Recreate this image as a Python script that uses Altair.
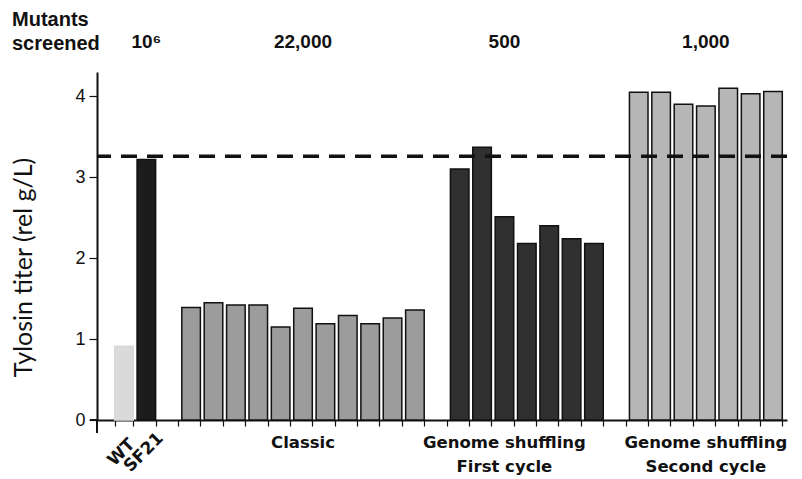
import altair as alt
import pandas as pd

# ---- data ----
wt_value = [0.91]
sf21_value = [3.22]
classic_values = [1.39, 1.45, 1.42, 1.42, 1.15, 1.38, 1.19, 1.29, 1.19, 1.26, 1.36]
first_cycle_values = [3.10, 3.37, 2.51, 2.18, 2.40, 2.24, 2.18]
second_cycle_values = [4.05, 4.05, 3.90, 3.88, 4.10, 4.03, 4.06]
sf21_level = [3.26]
y_ticks = [0, 1, 2, 3, 4]
mutants_screened = ["10\u2076", "22,000", "500", "1,000"]
group_line1 = ["Classic", "Genome shuffling", "Genome shuffling"]
group_line2 = ["", "First cycle", "Second cycle"]
y_title = "Tylosin titer (rel g/L)"

# ---- build table ----
rows = []
rows.append({"slot": "WT", "value": wt_value[0], "group": "WT"})
rows.append({"slot": "SF21", "value": sf21_value[0], "group": "SF21"})
classic_ids = [f"C{i+1}" for i in range(len(classic_values))]
first_ids = [f"F{i+1}" for i in range(len(first_cycle_values))]
second_ids = [f"S{i+1}" for i in range(len(second_cycle_values))]
for s, v in zip(classic_ids, classic_values):
    rows.append({"slot": s, "value": v, "group": "Classic"})
for s, v in zip(first_ids, first_cycle_values):
    rows.append({"slot": s, "value": v, "group": "First"})
for s, v in zip(second_ids, second_cycle_values):
    rows.append({"slot": s, "value": v, "group": "Second"})
df = pd.DataFrame(rows)

order = ["WT", "SF21", "gap1"] + classic_ids + ["gap2"] + first_ids + ["gap3"] + second_ids

groups = ["WT", "SF21", "Classic", "First", "Second"]
fills = ["#dadada", "#1c1c1c", "#9c9c9c", "#303030", "#b6b6b6"]
strokes = ["#dadada", "#111111", "#111111", "#111111", "#111111"]

xscale = alt.Scale(domain=order, paddingInner=0.17, paddingOuter=0.5, align=0.79)
x_enc = alt.X(
    "slot:N",
    scale=xscale,
    sort=order,
    axis=alt.Axis(
        title=None,
        tickBand="extent",
        tickSize=6,
        tickColor="#111",
        tickWidth=1.2,
        domainColor="#111",
        domainWidth=2,
        labelExpr="datum.value == 'WT' || datum.value == 'SF21' ? datum.value : ''",
        labelAngle=315,
        labelAlign="center",
        labelBaseline="middle",
        labelFont="DejaVu Sans",
        labelFontWeight="bold",
        labelFontSize=17,
        labelColor="#111",
        labelPadding=26,
        labelOffset=-3,
        labelOverlap=False,
        labelBound=False,
    ),
)

bars = alt.Chart(df).mark_bar(strokeWidth=1.5).encode(
    x=x_enc,
    y=alt.Y(
        "value:Q",
        scale=alt.Scale(domain=[0, 4.3], nice=False),
        axis=alt.Axis(
            values=y_ticks,
            format="d",
            title=y_title,
            titleFont="Lato",
            titleFontSize=25,
            titleFontWeight="normal",
            titleColor="#111",
            titleAngle=270,
            titleX=-66,
            titleY=195,
            titleAlign="center",
            titleBaseline="alphabetic",
            labelFont="Liberation Sans",
            labelFontSize=18,
            labelColor="#111",
            labelPadding=4,
            tickSize=8,
            tickColor="#111",
            tickWidth=1.2,
            domainColor="#111",
            domainWidth=2,
            grid=False,
        ),
    ),
    color=alt.Color("group:N", scale=alt.Scale(domain=groups, range=fills), legend=None),
    stroke=alt.Stroke("group:N", scale=alt.Scale(domain=groups, range=strokes), legend=None),
)

rule = alt.Chart(pd.DataFrame({"level": sf21_level})).mark_rule(
    strokeDash=[16, 10], strokeWidth=3.5, color="#111"
).encode(y="level:Q")

# small axis extensions past the corner, as in the reference
axis_ext_v = alt.Chart(pd.DataFrame({"k": [0]})).mark_rule(color="#111", strokeWidth=2).encode(
    x=alt.value(0), y=alt.value(348), y2=alt.value(361)
)
axis_ext_h = alt.Chart(pd.DataFrame({"k": [0]})).mark_rule(color="#111", strokeWidth=2).encode(
    x=alt.value(-7), x2=alt.value(0), y=alt.value(348)
)

top_df = pd.DataFrame({"slot": ["SF21", "C6", "F3", "S4"], "label": mutants_screened})
top_text = alt.Chart(top_df).mark_text(
    font="Liberation Sans", fontWeight="bold", fontSize=19, baseline="alphabetic", color="#111"
).encode(x=x_enc, y=alt.value(-24), text="label:N")

mut_text = alt.Chart(pd.DataFrame({"t": ["Mutants\nscreened"]})).mark_text(
    font="Liberation Sans", fontWeight="bold", fontSize=20, align="left",
    baseline="alphabetic", lineBreak="\n", lineHeight=24, color="#111"
).encode(x=alt.value(-85), y=alt.value(-46), text="t:N")

grp_df = pd.DataFrame({"slot": ["C6", "F3", "S4"], "l1": group_line1, "l2": group_line2})
grp1 = alt.Chart(grp_df).mark_text(
    font="DejaVu Sans", fontWeight="bold", fontSize=16.5, baseline="alphabetic", color="#111"
).encode(x=x_enc, y=alt.value(376), text="l1:N")
grp2 = alt.Chart(grp_df).mark_text(
    font="DejaVu Sans", fontWeight="bold", fontSize=16.5, baseline="alphabetic", color="#111"
).encode(x=x_enc, y=alt.value(400), text="l2:N")

chart = alt.layer(bars, rule, axis_ext_v, axis_ext_h, top_text, mut_text, grp1, grp2).properties(
    width=690,
    height=348,
    autosize=alt.AutoSizeParams(type="none"),
    padding={"left": 89, "top": 64, "right": 7, "bottom": 58},
).configure_view(stroke=None)

chart.save("out.html", embed_options={"renderer": "svg", "actions": False})
